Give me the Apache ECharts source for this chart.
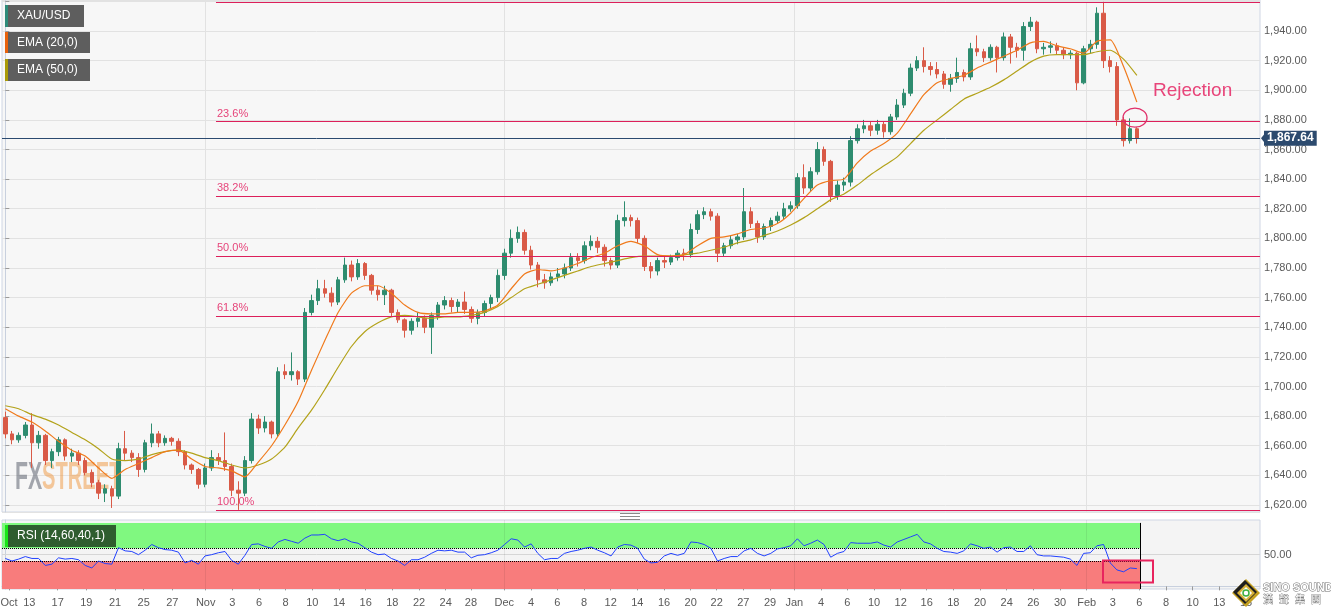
<!DOCTYPE html>
<html><head><meta charset="utf-8">
<script src="https://cdn.jsdelivr.net/npm/echarts@6/dist/echarts.min.js"></script>
<style>html,body{margin:0;padding:0;background:#fff}#c{width:1331px;height:615px}</style>
</head><body><div id="c"></div>
<script>
// ---------------- DATA ----------------
const open = [1679,1668,1664,1667,1674,1662,1667,1650,1656,1664,
1653,1655,1650,1642,1635,1628,1631,1626,1658,1655,
1652,1644,1662,1668,1662,1665,1663,1656,1647,1644,
1634,1645,1652,1650,1646,1630,1628,1650,1678,1672,
1676,1668,1710,1708,1710,1705,1750,1758,1766,1763,
1757,1772,1782,1774,1783,1775,1765,1762,1765,1750,
1745,1738,1744,1746,1740,1748,1755,1758,1754,1757,
1752,1746,1750,1756,1760,1775,1790,1800,1804,1792,
1782,1772,1770,1774,1776,1780,1787,1785,1795,1798,
1794,1785,1782,1812,1814,1812,1800,1781,1778,1785,
1784,1787,1790,1789,1806,1816,1818,1815,1790,1795,
1799,1801,1818,1810,1801,1808,1812,1815,1820,1822,
1841,1834,1845,1860,1852,1829,1836,1838,1866,1874,
1876,1873,1877,1872,1882,1890,1898,1915,1920,1916,
1914,1911,1904,1908,1912,1909,1928,1926,1922,1929,
1922,1936,1929,1927,1943,1946,1928,1929,1930,1927,
1924,1925,1905,1928,1931,1952,1920,1916,1880,1866,
1874];
const close = [1668,1664,1667,1674,1662,1667,1650,1656,1664,1653,
1655,1650,1642,1635,1628,1631,1626,1658,1655,1652,
1644,1662,1668,1662,1665,1663,1656,1647,1644,1634,
1645,1652,1650,1646,1630,1628,1650,1678,1672,1676,
1668,1710,1708,1710,1705,1750,1758,1766,1763,1757,
1772,1782,1774,1783,1775,1765,1762,1765,1750,1745,
1738,1744,1746,1740,1748,1755,1758,1754,1757,1752,
1746,1750,1756,1760,1775,1790,1800,1804,1792,1782,
1772,1770,1774,1776,1780,1787,1785,1795,1798,1794,
1785,1782,1812,1814,1812,1800,1781,1778,1785,1784,
1787,1790,1789,1806,1816,1818,1815,1790,1795,1799,
1801,1818,1810,1801,1808,1812,1815,1820,1822,1841,
1834,1845,1860,1852,1829,1836,1838,1866,1874,1876,
1873,1877,1872,1882,1890,1898,1915,1920,1916,1914,
1911,1904,1908,1912,1909,1928,1926,1922,1929,1922,
1936,1929,1927,1943,1946,1928,1929,1930,1927,1924,
1925,1905,1928,1931,1952,1920,1916,1880,1866,1874,
1867.64];
const low = [1665,1661,1662,1665,1645,1658,1647,1645,1653,1650,
1649,1647,1640,1632,1624,1622,1618,1624,1650,1649,
1639,1642,1659,1659,1660,1660,1653,1644,1641,1631,
1632,1643,1647,1643,1626,1616.7,1626,1648,1668,1669,
1665,1666,1705,1704,1701,1703,1748,1755,1760,1754,
1755,1770,1771,1772,1772,1762,1758,1755,1747,1743,
1733,1735,1740,1736,1722,1745,1752,1750,1750,1749,
1743,1742,1747,1752,1757,1772,1787,1797,1789,1779,
1767,1766,1768,1771,1773,1778,1781,1783,1792,1790,
1781,1779,1780,1808,1808,1797,1778,1773,1775,1780,
1782,1785,1785,1787,1803,1813,1812,1784,1788,1793,
1796,1799,1807,1797,1799,1805,1810,1813,1818,1820,
1830,1832,1843,1849,1824.6,1826,1832,1835,1864,1871,
1869,1870,1868,1870,1880,1888,1896,1913,1912,1910,
1908,1901,1899,1905,1906,1907,1923,1919,1920,1912,
1920,1918,1922,1920,1940,1925,1924,1925,1924,1921,
1921,1900,1904,1925,1928,1915,1912,1876,1862,1864,
1864];
const high = [1683,1670,1669,1676,1682,1670,1668,1658,1666,1665,
1658,1657,1652,1644,1637,1634,1633,1662,1670,1657,
1655,1664,1675,1670,1667,1666,1665,1657,1648,1645,
1648,1657,1655,1669,1648,1636,1653,1682,1681,1680,
1677,1713,1715,1723,1711,1753,1762,1772,1772,1767,
1774,1787,1785,1786,1784,1776,1768,1768,1766,1752,
1746,1746,1750,1748,1750,1757,1761,1760,1759,1764,
1754,1752,1758,1762,1779,1793,1806,1808,1806,1795,
1784,1776,1777,1780,1783,1790,1790,1798,1802,1801,
1796,1787,1816,1825,1816,1814,1802,1784,1787,1788,
1789,1792,1793,1810,1819,1821,1820,1817,1797,1802,
1803,1834,1821,1812,1810,1814,1818,1824,1825,1844,
1850,1848,1865,1862,1853,1839,1841,1869,1877,1880,
1879,1880,1879,1884,1894,1901,1918,1923,1929,1919,
1919,1913,1911,1922,1914,1932,1937,1928,1931,1930,
1939,1938,1932,1946,1949.5,1947,1932,1933,1932,1929,
1927,1926,1930,1934,1956,1959.7,1923,1919,1882,1881,
1875];
// EMA readings, one every EMA_STEP bars
const EMA_STEP = 2;
const ema20 = [1685,1680,1676,1670,1663,1657,1653,1645,1638,1644,
1648,1652,1656,1657,1651,1646,1645,1643,1639,1649,
1660,1674,1690,1711,1731,1750,1763,1768,1768,1763,
1755,1750,1749,1749,1750,1750,1751,1755,1766,1776,
1779,1778,1780,1783,1787,1790,1795,1798,1795,1789,
1788,1789,1795,1800,1801,1803,1806,1807,1810,1817,
1827,1836,1839,1840,1851,1859,1864,1871,1884,1897,
1905,1908,1910,1915,1919,1923,1927,1932,1933,1930,
1928,1925,1933,1934,1916,1892];
const ema50 = [1687,1685,1681,1678,1674,1669,1664,1658,1651,1650,
1651,1654,1656,1657,1655,1652,1650,1647,1645,1647,
1651,1659,1672,1684,1698,1713,1727,1737,1743,1747,
1748,1747,1746,1747,1747,1748,1750,1754,1760,1766,
1769,1772,1775,1778,1781,1783,1785,1787,1788,1788,
1788,1789,1790,1792,1794,1797,1799,1802,1805,1809,
1814,1820,1826,1830,1836,1843,1849,1855,1864,1873,
1880,1887,1894,1898,1902,1907,1913,1919,1923,1924,
1924,1924,1926,1927,1921,1910];
const rsi = [44,40,43,47,44,44,33,35,45,43,
44,42,33,29,40,36,35,61,56,55,
50,57,66,61,58,57,54,37,41,35,
48,50,53,55,41,35,49,66,67,63,
60,70,74,71,68,76,81,81,82,75,
72,75,70,68,61,54,50,51,44,40,
33,42,42,46,52,57,56,57,54,54,
45,49,50,53,57,66,75,73,62,67,
52,42,44,44,52,55,57,60,62,57,
53,48,62,66,65,60,43,37,38,48,
52,49,52,70,69,66,60,40,44,47,
47,56,60,52,48,52,59,61,64,75,
64,68,73,66,46,52,55,69,68,68,
68,70,65,62,70,74,78,82,70,67,
60,55,54,52,56,67,64,60,62,54,
61,62,55,55,64,50,48,48,47,46,
43,33,52,53,64,66,37,26,23,29,
28];
// time-axis tick labels (position in bar units)
const tickPos = [0.55,3.6,7.87,12.17,16.48,20.79,25.09,
30.1,34.1,38.11,42.12,46.12,50.13,54.14,58.14,62.15,66.16,69.96,
74.97,78.98,82.93,86.94,90.95,94.95,98.96,102.97,106.88,110.88,114.89,
118.54,122.55,126.5,130.51,134.52,138.43,142.43,146.44,150.45,154.45,158.46,
162.47,166.37,170.37,174.38,178.39,182.39,186.4];
const tickLabels = ['Oct','13','17','19','21','25','27',
'Nov','3','6','8','10','14','16','18','22','24','28',
'Dec','4','6','8','12','14','16','20','22','27','29',
'Jan','4','6','10','12','16','18','20','24','26','30',
'Feb','3','6','8','10','13','15'];
const priceLabelRange = [1620, 1940];
const fibRatios = [0, 0.236, 0.382, 0.5, 0.618, 1];
const fibLabels = ['0.0%','23.6%','38.2%','50.0%','61.8%','100.0%'];
const fibStart = 31.65;
const TOTAL_SLOTS = 189;

// ---------------- CHART ----------------
const N = TOTAL_SLOTS;
const last = close.length - 1;
const Y_MIN = 1615.27, Y_MAX = 1960.93;
const RSI_MIN = -4.1, RSI_MAX = 104.6;
const FONT = 'Liberation Sans, Arial, sans-serif';

function fmt2(v){
  const s = Number(v).toFixed(2); const parts = s.split('.');
  return parts[0].replace(/\B(?=(\d{3})+(?!\d))/g, ',') + '.' + parts[1];
}
function labelFor(v){
  let best = 0, bd = 1e9;
  tickPos.forEach((p,k)=>{ const d = Math.abs(p - v); if (d < bd){ bd = d; best = k; } });
  return tickLabels[best];
}
const slots = Array.from({length: N}, (_, i) => String(i));
const candles = open.map((o,i) => [o, close[i], low[i], high[i]]);
const swingHigh = Math.max(...high), swingLow = Math.min(...low);
const fibLines = fibRatios.map((r,k) => {
  const v = swingHigh - r * (swingHigh - swingLow);
  return [{name: fibLabels[k], coord: [fibStart, v]}, {coord: [N - 0.5, v]}];
});
const monthPos = tickPos.filter((p,k) => k > 0 && /[A-Za-z]/.test(tickLabels[k]));

function tagBox(x, y, w, h, bg, strip, text){
  return [
    {type:'rect', z:10, shape:{x:x, y:y, width:w, height:h}, style:{fill:bg}},
    {type:'rect', z:11, shape:{x:x, y:y, width:3, height:h}, style:{fill:strip}},
    {type:'text', z:11, x:x+12, y:y+h/2, style:{text:text, fill:'#fff', fontSize:12, fontFamily:FONT, textVerticalAlign:'middle'}}
  ];
}
const cjk = ['漢','聲','集','團'];

const graphics = [].concat(
  tagBox(5, 5, 79, 22, '#5e5e5e', '#2e8b7a', 'XAU/USD'),
  tagBox(5, 32, 85, 21, '#5e5e5e', '#e8620c', 'EMA (20,0)'),
  tagBox(5, 59, 85, 22, '#5e5e5e', '#a99a08', 'EMA (50,0)'),
  tagBox(5, 525, 111, 22, '#2f5d2f', '#19e619', 'RSI (14,60,40,1)'),
  [
    {type:'text', z:1, x:15, y:479, scaleX:0.56, style:{text:'FX', fill:'rgba(105,110,122,0.6)', fontSize:38, fontWeight:'bold', fontFamily:FONT, textVerticalAlign:'middle'}},
    {type:'text', z:1, x:42, y:479, scaleX:0.53, style:{text:'STREET', fill:'rgba(240,150,60,0.5)', fontSize:38, fontWeight:'bold', fontFamily:FONT, textVerticalAlign:'middle'}},
    {type:'line', z:10, shape:{x1:620, y1:513.5, x2:640, y2:513.5}, style:{stroke:'#8a8a8a', lineWidth:1}},
    {type:'line', z:10, shape:{x1:620, y1:515.5, x2:640, y2:515.5}, style:{stroke:'#ffffff', lineWidth:1}},
    {type:'line', z:10, shape:{x1:620, y1:516.5, x2:640, y2:516.5}, style:{stroke:'#8a8a8a', lineWidth:1}},
    {type:'line', z:10, shape:{x1:620, y1:518.5, x2:640, y2:518.5}, style:{stroke:'#ffffff', lineWidth:1}},
    {type:'line', z:10, shape:{x1:620, y1:519.5, x2:640, y2:519.5}, style:{stroke:'#8a8a8a', lineWidth:1}},
    {type:'text', z:10, x:1153, y:91, style:{text:'Rejection', fill:'#e8457a', fontSize:19, fontFamily:FONT, textVerticalAlign:'middle'}},
    {type:'ellipse', z:10, shape:{cx:1135, cy:117.7, rx:12, ry:9.5}, style:{fill:'none', stroke:'#e0306a', lineWidth:1.3}},
    {type:'rect', z:10, shape:{x:1103, y:560.5, width:50, height:22}, style:{fill:'none', stroke:'#e8245e', lineWidth:2}},
    {type:'polygon', z:20, shape:{points:[[1246,579],[1260,593],[1246,607],[1232,593]]}, style:{fill:'#c4a020'}},
    {type:'polygon', z:20, shape:{points:[[1245,580],[1257,592],[1245,604],[1233,592]]}, style:{fill:'#1e1e1e'}},
    {type:'polygon', z:20, shape:{points:[[1246,584],[1255,593],[1246,602],[1237,593]]}, style:{fill:'#d7b23a'}},
    {type:'polygon', z:20, shape:{points:[[1246,587],[1252,593],[1246,599],[1240,593]]}, style:{fill:'#ffffff'}},
    {type:'circle', z:21, shape:{cx:1246, cy:593, r:3}, style:{fill:'none', stroke:'#3cae3c', lineWidth:1.5}},
    {type:'text', z:21, x:1263, y:588, style:{text:'SINO SOUND', fill:'#ffffff', stroke:'#6e6e6e', lineWidth:1, fontSize:11, fontWeight:'bold', fontFamily:FONT, textVerticalAlign:'middle'}}
  ],
  cjk.map((ch,k) => ({type:'text', z:21, x:1263 + k*16, y:599, style:{text:ch, fill:'#ffffff', stroke:'#808080', lineWidth:0.8, fontSize:10, fontFamily:'Noto Sans CJK TC', textVerticalAlign:'middle'}}))
).map((g,i) => Object.assign({id:'g'+i}, g));

const option = {
  animation: false,
  textStyle: {fontFamily: FONT},
  grid: [
    {left:2, right:71, top:0, height:512, show:true, backgroundColor:'#f7f7f7', borderColor:'#cfd6e4', borderWidth:1, outerBoundsMode:'none', containLabel:false},
    {left:2, right:71, top:520, height:69, show:true, backgroundColor:'#f4f4f4', borderColor:'#cfd6e4', borderWidth:1, outerBoundsMode:'none', containLabel:false}
  ],
  xAxis: [
    {type:'category', gridIndex:0, data:slots, boundaryGap:true, show:false},
    {type:'value', gridIndex:0, min:-0.5, max:N-0.5, show:false},
    {type:'value', gridIndex:1, min:-0.5, max:N-0.5,
      axisLine:{show:true, lineStyle:{color:'#c8d0de'}},
      splitLine:{show:false},
      axisTick:{show:true, customValues:tickPos, length:4, lineStyle:{color:'#9a9a9a'}},
      axisLabel:{show:true, customValues:tickPos, formatter:(v)=>labelFor(v), color:'#5a5a5a', fontSize:11, margin:8, hideOverlap:false}}
  ],
  yAxis: [
    {type:'value', gridIndex:0, position:'right', min:Y_MIN, max:Y_MAX, minInterval:20, maxInterval:20, splitNumber:17,
      axisLine:{show:true, lineStyle:{color:'#c8d0de'}},
      axisTick:{show:true, length:4, lineStyle:{color:'#9a9a9a'}},
      axisLabel:{color:'#5a5a5a', fontSize:11, margin:4, showMinLabel:false, showMaxLabel:false,
        formatter:(v)=> (v < priceLabelRange[0] || v > priceLabelRange[1]) ? '' : fmt2(v)},
      splitLine:{show:true, lineStyle:{color:'#e2e2e2'}}},
    {type:'value', gridIndex:1, position:'right', min:RSI_MIN, max:RSI_MAX,
      axisLine:{show:true, lineStyle:{color:'#c8d0de'}},
      axisTick:{show:true, customValues:[0,50], length:4, lineStyle:{color:'#9a9a9a'}},
      axisLabel:{customValues:[50], color:'#5a5a5a', fontSize:11, margin:4, formatter:fmt2},
      splitLine:{show:false}}
  ],
  series: [
    {type:'candlestick', name:'XAU/USD', xAxisIndex:0, yAxisIndex:0, data:candles, barWidth:4, z:2,
      itemStyle:{color:'#2e8c6f', color0:'#d95a47', borderColor:'#2e8c6f', borderColor0:'#d95a47', borderWidth:1},
      markLine:{silent:true, symbol:['none','none'], z:5, animation:false,
        data:[{yAxis: close[last]}],
        lineStyle:{color:'#2b4a70', width:1, type:'solid'},
        label:{show:true, position:'end', distance:4, formatter:(p)=>fmt2(p.value), backgroundColor:'#2c4a6e', color:'#fff', fontWeight:'bold', fontSize:12, lineHeight:12, padding:[2,3,1,3]}}},
    {type:'line', name:'EMA (50,0)', xAxisIndex:1, yAxisIndex:0, z:3, showSymbol:false, smooth:0.2,
      data: ema50.map((v,i)=>[i*EMA_STEP, v]),
      lineStyle:{color:'#b3a21a', width:1.2},
      markLine:{silent:true, symbol:['none','none'], z:4, animation:false,
        lineStyle:{color:'#dc1f5b', width:1, type:'solid'},
        label:{show:true, position:'insideStartTop', formatter:'{b}', color:'#e6447a', fontSize:11, distance:[1,2]},
        data: fibLines}},
    {type:'line', name:'EMA (20,0)', xAxisIndex:1, yAxisIndex:0, z:3, showSymbol:false, smooth:0.2,
      data: ema20.map((v,i)=>[i*EMA_STEP, v]),
      lineStyle:{color:'#f07a1c', width:1.2},
      markLine:{silent:true, symbol:['none','none'], z:1, animation:false, label:{show:false},
        lineStyle:{color:'#e2e2e2', width:1, type:'solid'},
        data: monthPos.map(p=>({xAxis:p}))}},
    {type:'line', name:'RSI', xAxisIndex:2, yAxisIndex:1, z:4, showSymbol:false,
      data: rsi.map((v,i)=>[i, v]),
      lineStyle:{color:'#2141ff', width:1},
      markArea:{silent:true, z:1, data:[
        [{xAxis:-0.5, yAxis:60, itemStyle:{color:'#80f880'}}, {xAxis:last+0.5, yAxis:100}],
        [{xAxis:-0.5, yAxis:RSI_MIN, itemStyle:{color:'#f87c7c'}}, {xAxis:last+0.5, yAxis:40}]
      ]},
      markLine:{silent:true, symbol:['none','none'], z:3, animation:false, label:{show:false},
        data: [
          [{coord:[-0.5,50], lineStyle:{color:'#d6d6d6', type:'solid', width:1}}, {coord:[N-0.5,50]}],
          [{coord:[-0.5,60], lineStyle:{color:'#000', type:'dotted', width:1}}, {coord:[last+0.5,60]}],
          [{coord:[-0.5,40], lineStyle:{color:'#000', type:'dotted', width:1}}, {coord:[last+0.5,40]}],
          [{coord:[last+0.5,RSI_MIN], lineStyle:{color:'#000', type:'solid', width:1}}, {coord:[last+0.5,100]}]
        ].concat(monthPos.map(p=>[{coord:[p,RSI_MIN], lineStyle:{color:'rgba(0,0,0,0.07)', type:'solid', width:1}}, {coord:[p,RSI_MAX]}]))}}
  ],
  graphic: graphics
};

const chart = echarts.init(document.getElementById('c'), null, {renderer:'canvas'});
chart.setOption(option);
const py = chart.convertToPixel({yAxisIndex:0}, close[last]);
const ex = chart.convertToPixel({xAxisIndex:1}, N - 0.5);
chart.setOption({graphic:[{id:'notch', type:'polygon', z:12, shape:{points:[[ex+1,py],[ex+5,py-5],[ex+5,py+5]]}, style:{fill:'#2c4a6e'}}]});
</script>
</body></html>
